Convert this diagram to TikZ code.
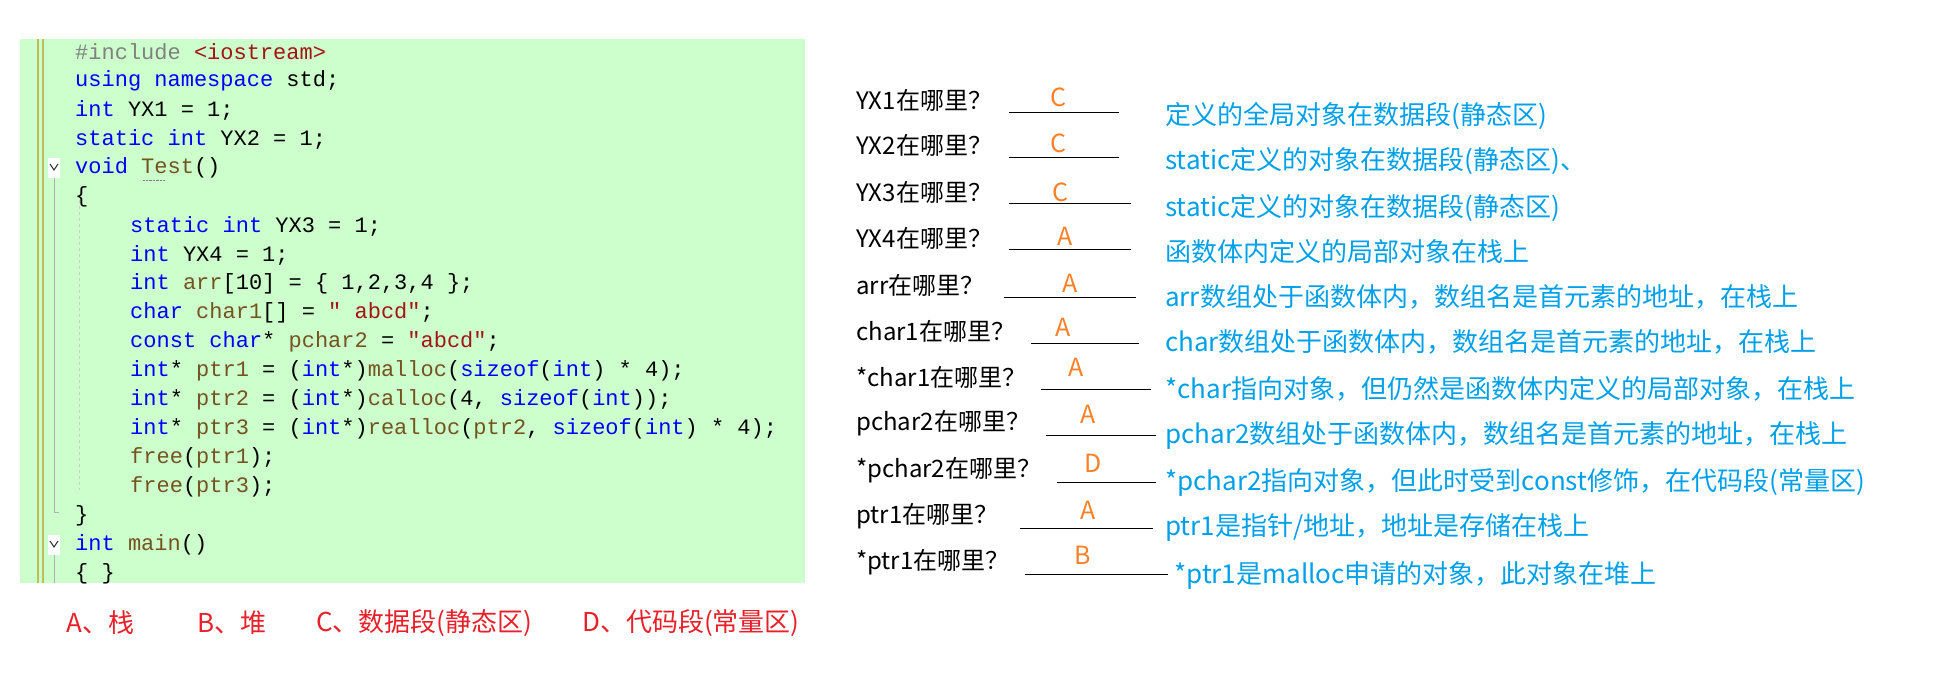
\documentclass[tikz,border=0pt]{standalone}
\usepackage{fontspec}
\setmainfont{Noto Sans CJK SC}
\newfontfamily\codefont{Liberation Mono}
\newfontfamily\cjkfont{Noto Sans CJK SC}
\usetikzlibrary{positioning}
\definecolor{codebg}{RGB}{204,255,204}
\definecolor{kwblue}{RGB}{0,0,255}
\definecolor{strred}{RGB}{163,21,21}
\definecolor{fnbrown}{RGB}{116,83,31}
\definecolor{ppgray}{RGB}{128,128,128}
\definecolor{barolive}{RGB}{190,190,90}
\definecolor{explblue}{RGB}{0,160,233}
\definecolor{ansorange}{RGB}{255,128,40}
\definecolor{legred}{RGB}{232,32,42}
\tikzset{%
  code/.style   = {anchor = west, inner sep = 0pt, font = \codefont\fontsize{22}{22}\selectfont},
  quest/.style  = {anchor = west, inner sep = 0pt, font = \cjkfont\fontsize{24}{24}\selectfont},
  ans/.style    = {inner sep = 0pt, text = ansorange, font = \cjkfont\fontsize{25}{25}\selectfont},
  expl/.style   = {anchor = west, inner sep = 0pt, text = explblue, font = \cjkfont\fontsize{26}{26}\selectfont},
  legend/.style = {anchor = west, inner sep = 0pt, text = legred, font = \cjkfont\fontsize{26}{26}\selectfont},
  blank/.style  = {draw, line width = 1pt}
}
\newcommand{\kw}[1]{\textcolor{kwblue}{#1}}
\newcommand{\str}[1]{\textcolor{strred}{#1}}
\newcommand{\fn}[1]{\textcolor{fnbrown}{#1}}

\begin{document}
\begin{tikzpicture}[x = 1pt, y = -1pt]
\useasboundingbox (0,0) rectangle (1935,683);
%code panel
\fill[codebg] (20,39) rectangle (805,583);
\draw[barolive, line width = 1.5pt] (38,39) -- (38,583) (43,39) -- (43,583);
\draw[ppgray!60] (54,178) -- (54,512) -- (59,512);
\draw[ppgray!60] (54,555) -- (54,583);
\draw[ppgray!40, dashed] (79,200) -- (79,490);
\fill[white] (48,158) rectangle (60,178) (48,535) rectangle (60,555);
\draw[black!80, line width = 1pt] (50,164) -- (54,170) -- (58,164);
\draw[black!80, line width = 1pt] (50,541) -- (54,547) -- (58,541);
%code lines
\node[code] (c1) at (75,52) {\textcolor{ppgray}{\#include} \str{<iostream>}};
\node[code] (c2) at (75,81) {\kw{using} \kw{namespace} std;};
\node[code] (c3) at (75,110) {\kw{int} YX1 = 1;};
\node[code] (c4) at (75,139) {\kw{static} \kw{int} YX2 = 1;};
\node[code] (c5) at (75,168) {\kw{void} \fn{Test}()};
\node[code] (c6) at (75,197) {\{};
\node[code] (c7) at (130,226) {\kw{static} \kw{int} YX3 = 1;};
\node[code] (c8) at (130,255) {\kw{int} YX4 = 1;};
\node[code] (c9) at (130,284) {\kw{int} \fn{arr}[10] = \{ 1,2,3,4 \};};
\node[code] (c10) at (130,313) {\kw{char} \fn{char1}[] = \str{" abcd"};};
\node[code] (c11) at (130,342) {\kw{const} \kw{char}* \fn{pchar2} = \str{"abcd"};};
\node[code] (c12) at (130,371) {\kw{int}* \fn{ptr1} = (\kw{int}*)\fn{malloc}(\kw{sizeof}(\kw{int}) * 4);};
\node[code] (c13) at (130,400) {\kw{int}* \fn{ptr2} = (\kw{int}*)\fn{calloc}(4, \kw{sizeof}(\kw{int}));};
\node[code] (c14) at (130,429) {\kw{int}* \fn{ptr3} = (\kw{int}*)\fn{realloc}(\fn{ptr2}, \kw{sizeof}(\kw{int}) * 4);};
\node[code] (c15) at (130,458) {\fn{free}(\fn{ptr1});};
\node[code] (c16) at (130,487) {\fn{free}(\fn{ptr3});};
\node[code] (c17) at (75,516) {\}};
\node[code] (c18) at (75,545) {\kw{int} \fn{main}()};
\node[code] (c19) at (75,574) {\{ \}};
\draw[ppgray, densely dotted] (143,180) -- (165,180);
%legend
\node[legend] (la) at (66,623) {A、栈};
\node[legend] (lb) at (197,623) {B、堆};
\node[legend] (lc) at (316,623) {C、数据段(静态区)};
\node[legend] (ld) at (582,623) {D、代码段(常量区)};
%questions
\foreach \i/\yq/\q/\xa/\xb/\yl/\xc/\ya/\a/\xe/\ye/\e in {%
  1/100/{YX1在哪里？}/1009/1119/112/1058/97/C/1165/116/{定义的全局对象在数据段(静态区)},
  2/145/{YX2在哪里？}/1009/1119/157/1058/143/C/1165/161/{static定义的对象在数据段(静态区)、},
  3/192/{YX3在哪里？}/1009/1131/203/1060/192/C/1165/208/{static定义的对象在数据段(静态区)},
  4/238/{YX4在哪里？}/1009/1131/249/1065/236/A/1165/252/{函数体内定义的局部对象在栈上},
  5/285/{arr在哪里？}/1004/1136/297/1070/283/A/1165/297/{arr数组处于函数体内，数组名是首元素的地址，在栈上},
  6/331/{char1在哪里？}/1031/1139/343/1063/327/A/1165/342/{char数组处于函数体内，数组名是首元素的地址，在栈上},
  7/377/{*char1在哪里？}/1041/1151/389/1076/367/A/1165/389/{*char指向对象，但仍然是函数体内定义的局部对象，在栈上},
  8/423/{pchar2在哪里？}/1046/1156/435/1088/414/A/1165/435/{pchar2数组处于函数体内，数组名是首元素的地址，在栈上},
  9/470/{*pchar2在哪里？}/1057/1156/482/1093/463/D/1165/482/{*pchar2指向对象，但此时受到const修饰，在代码段(常量区)},
  10/516/{ptr1在哪里？}/1020/1153/528/1088/510/A/1165/528/{ptr1是指针/地址，地址是存储在栈上},
  11/562/{*ptr1在哪里？}/1025/1168/574/1083/555/B/1174/575/{*ptr1是malloc申请的对象，此对象在堆上}} {
  \node[quest] (q\i) at (856,\yq) {\q};
  \coordinate (bl\i) at (\xa,\yl);
  \coordinate (br\i) at (\xb,\yl);
  \draw[blank] (bl\i) -- (br\i);
  \node[ans] (a\i) at (\xc,\ya) {\a};
  \node[expl] (e\i) at (\xe,\ye) {\e};
}
\end{tikzpicture}
\end{document}
